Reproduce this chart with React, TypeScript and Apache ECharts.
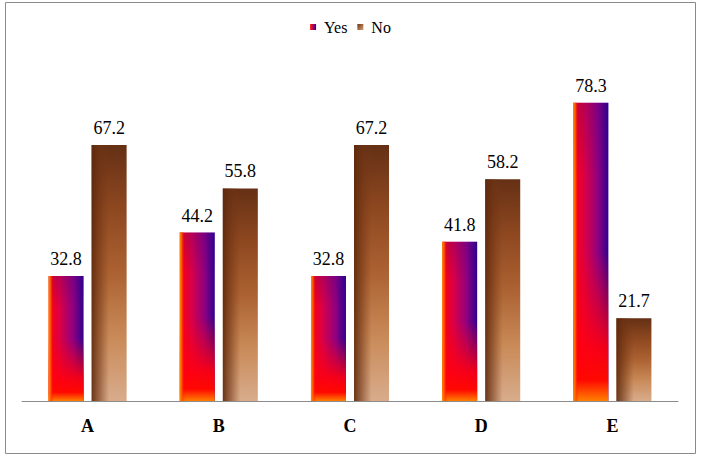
import React, { useEffect, useRef } from "react";
import * as echarts from "echarts";

const categories = ["A", "B", "C", "D", "E"];
const yesValues = [32.8, 44.2, 32.8, 41.8, 78.3];
const noValues = [67.2, 55.8, 67.2, 58.2, 21.7];

const FONT = "Liberation Serif";

const grad = (x: number, y: number, x2: number, y2: number, stops: [number, string][]) =>
  new echarts.graphic.LinearGradient(
    x,
    y,
    x2,
    y2,
    stops.map(([offset, color]) => ({ offset, color }))
  );

export default function App() {
  const ref = useRef<HTMLDivElement>(null);

  useEffect(() => {
    if (!ref.current) return;
    const chart = echarts.init(ref.current, undefined, { renderer: "svg" });

    const yesFill = grad(0, 0, 1, 0, [
      [0, "#FF0010"],
      [0.35, "#D6004A"],
      [0.7, "#900080"],
      [1, "#30008E"],
    ]);
    const yesVert = grad(0, 0, 0, 1, [
      [0, "rgba(40,0,140,0.2)"],
      [0.25, "rgba(40,0,140,0)"],
      [0.5, "rgba(255,0,16,0)"],
      [0.82, "rgba(255,0,16,0.92)"],
      [0.93, "#FF0800"],
      [1, "#FF8000"],
    ]);
    const yesEdge = grad(0, 0, 1, 0, [
      [0, "#FF9400"],
      [0.06, "rgba(255,90,0,0.85)"],
      [0.14, "rgba(255,0,0,0)"],
      [1, "rgba(255,0,0,0)"],
    ]);
    const noFill = grad(0, 0, 0, 1, [
      [0, "#653015"],
      [0.25, "#8E4820"],
      [0.5, "#AC6232"],
      [0.75, "#C98A58"],
      [1, "#D8AC8C"],
    ]);
    const noEdge = grad(0, 0, 1, 0, [
      [0, "rgba(92,40,12,0.9)"],
      [0.25, "rgba(110,50,18,0.5)"],
      [0.5, "rgba(120,56,22,0)"],
      [1, "rgba(120,56,22,0)"],
    ]);
    const yesIcon = grad(0, 0, 1, 0, [
      [0, "#FF2000"],
      [0.5, "#B0006A"],
      [1, "#300090"],
    ]);
    const noIcon = grad(0, 0, 1, 1, [
      [0, "#6A3216"],
      [1, "#D8A070"],
    ]);

    const xBase = {
      type: "category" as const,
      data: categories,
      boundaryGap: true,
    };

    const barCommon = {
      type: "bar" as const,
      barWidth: 35,
      barGap: "23%",
    };

    const labelStyle = {
      show: true,
      position: "top" as const,
      distance: 8,
      fontFamily: FONT,
      fontSize: 18,
      fontWeight: "normal" as const,
      color: "#000",
    };

    chart.setOption({
      animation: false,
      backgroundColor: "#fff",
      textStyle: { fontFamily: FONT },
      legend: {
        data: [
          { name: "Yes", itemStyle: { color: yesIcon } },
          { name: "No", itemStyle: { color: noIcon } },
        ],
        left: "center",
        top: 14,
        itemWidth: 6,
        itemHeight: 6,
        itemGap: 10,
        icon: "rect",
        selectedMode: false,
        textStyle: {
          fontFamily: FONT,
          fontSize: 16,
          fontWeight: "normal",
          color: "#000",
          padding: [0, 0, 0, 3],
        },
      },
      grid: { left: 22, right: 23, top: 20, bottom: 60 },
      xAxis: [
        {
          ...xBase,
          axisLine: { show: true, lineStyle: { color: "#8C8C8C", width: 1 } },
          axisTick: { show: false },
          axisLabel: {
            fontFamily: FONT,
            fontSize: 18,
            fontWeight: "bold",
            color: "#000",
            margin: 16,
          },
        },
        { ...xBase, show: false },
        { ...xBase, show: false },
      ],
      yAxis: {
        type: "value",
        min: 0,
        max: 100,
        show: false,
        splitLine: { show: false },
      },
      graphic: [
        {
          type: "rect",
          shape: { x: 5.5, y: 2.5, width: 690, height: 451 },
          style: { fill: "none", stroke: "#8A8A8A", lineWidth: 1 },
          silent: true,
          z: 100,
        },
      ],
      series: [
        {
          ...barCommon,
          name: "Yes",
          xAxisIndex: 0,
          data: yesValues,
          itemStyle: { color: yesFill },
          label: labelStyle,
          z: 2,
        },
        {
          ...barCommon,
          name: "No",
          xAxisIndex: 0,
          data: noValues,
          itemStyle: { color: noFill },
          label: labelStyle,
          z: 2,
        },
        {
          ...barCommon,
          name: "_yesVert",
          xAxisIndex: 1,
          data: yesValues,
          itemStyle: { color: yesVert },
          silent: true,
          z: 3,
        },
        {
          ...barCommon,
          name: "_noVert",
          xAxisIndex: 1,
          data: noValues,
          itemStyle: { color: "rgba(0,0,0,0)" },
          silent: true,
          z: 3,
        },
        {
          ...barCommon,
          name: "_yesEdge",
          xAxisIndex: 2,
          data: yesValues,
          itemStyle: { color: yesEdge },
          silent: true,
          z: 4,
        },
        {
          ...barCommon,
          name: "_noEdge",
          xAxisIndex: 2,
          data: noValues,
          itemStyle: { color: noEdge },
          silent: true,
          z: 4,
        },
      ],
    });

    return () => chart.dispose();
  }, []);

  return (
    <div
      ref={ref}
      style={{ position: "fixed", left: 0, top: 0, width: 701, height: 461 }}
    />
  );
}
